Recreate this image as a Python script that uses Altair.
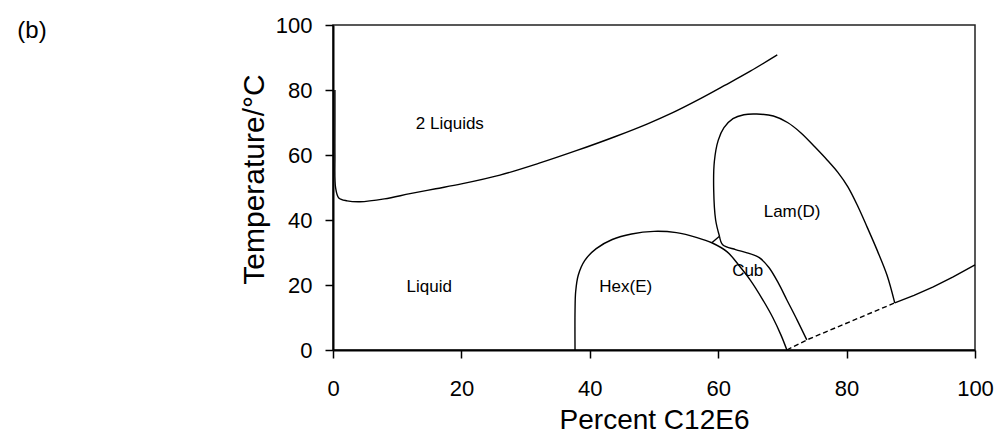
import altair as alt
import pandas as pd

# Phase boundaries of the C12E6 / water system (x: wt% C12E6, y: temperature in °C)
two_liquids_x = [0.3, 0.3, 0.3, 0.4, 0.9, 2.2, 4.2, 8.0, 12.0, 16.0, 20.0, 26.0, 32.0, 38.0, 44.0, 49.0, 53.0, 57.0, 61.0, 65.0, 69.2]
two_liquids_y = [80.0, 70.0, 60.0, 50.0, 46.8, 45.9, 45.6, 46.5, 48.1, 49.6, 51.1, 53.8, 57.4, 61.4, 65.7, 69.6, 73.1, 77.1, 81.4, 85.8, 90.8]

hex_x = [37.7, 37.7, 37.8, 38.2, 39.2, 41.0, 43.5, 46.5, 50.0, 53.5, 56.7, 59.0, 61.4, 63.4, 65.0, 66.9, 68.5, 69.8, 70.7]
hex_y = [0.0, 12.0, 18.0, 23.0, 27.5, 31.2, 34.0, 35.7, 36.5, 36.1, 34.6, 33.0, 30.2, 25.6, 21.5, 15.6, 10.0, 4.5, 0.0]

link_x = [59.0, 60.2]
link_y = [33.0, 35.0]

cub_x = [60.2, 60.7, 62.7, 64.5, 66.4, 67.9, 69.4, 70.7, 72.3, 73.8]
cub_y = [35.0, 32.4, 30.9, 29.9, 28.4, 25.4, 20.5, 15.4, 9.2, 3.1]

lam_x = [60.2, 59.6, 59.3, 59.4, 60.0, 60.9, 62.3, 64.0, 66.0, 68.6, 70.8, 72.9, 75.0, 77.0, 78.7, 80.2, 81.8, 83.2, 84.8, 86.3, 87.5]
lam_y = [35.0, 40.0, 49.2, 58.0, 64.5, 68.4, 71.2, 72.4, 72.6, 72.0, 70.0, 66.8, 62.6, 58.4, 54.5, 50.2, 44.0, 37.8, 30.5, 23.0, 14.5]

dashed_x = [70.7, 73.8, 87.5]
dashed_y = [0.0, 3.1, 14.5]

upper_x = [87.5, 90.5, 93.5, 96.6, 100.0]
upper_y = [14.5, 16.8, 19.4, 22.5, 26.2]

region_names = ["2 Liquids", "Liquid", "Hex(E)", "Cub", "Lam(D)"]
region_x = [18.2, 15.0, 45.6, 64.6, 71.5]
region_y = [69.5, 19.4, 19.4, 24.3, 42.5]

x_ticks = [0, 20, 40, 60, 80, 100]
y_ticks = [0, 20, 40, 60, 80, 100]


def curve(name, xs, ys):
    return pd.DataFrame({"curve": name, "x": xs, "y": ys, "idx": range(len(xs))})


smooth = pd.concat([
    curve("two_liquids", two_liquids_x, two_liquids_y),
    curve("hex", hex_x, hex_y),
    curve("cub", cub_x, cub_y),
    curve("lam", lam_x, lam_y),
])
straight = pd.concat([
    curve("link", link_x, link_y),
    curve("upper", upper_x, upper_y),
])
dashed = curve("dashed", dashed_x, dashed_y)
labels = pd.DataFrame({"name": region_names, "x": region_x, "y": region_y})

x_scale = alt.Scale(domain=[0, 100], nice=False, zero=False)
y_scale = alt.Scale(domain=[0, 100], nice=False, zero=False)

x_enc = alt.X(
    "x:Q", scale=x_scale,
    axis=alt.Axis(
        title="Percent C12E6", values=x_ticks, grid=False, format="d",
        domainColor="black", domainWidth=2, tickColor="black", tickWidth=1.5,
        tickSize=8, labelPadding=20, labelFontSize=22, labelColor="black",
        labelFont="Liberation Sans", titleFont="Liberation Sans", titleFontSize=28,
        titleFontWeight="normal", titleColor="black", titleBaseline="alphabetic",
        titleX=321, titleY=78, labelFlush=False,
    ),
)
y_enc = alt.Y(
    "y:Q", scale=y_scale,
    axis=alt.Axis(
        title="Temperature/°C", values=y_ticks, grid=False, format="d",
        domainColor="black", domainWidth=2, tickColor="black", tickWidth=1.5,
        tickSize=8, labelPadding=13, labelFontSize=22, labelColor="black",
        labelFont="Liberation Sans", titleFont="Liberation Sans", titleFontSize=30,
        titleFontWeight="normal", titleColor="black", titleBaseline="alphabetic",
        titleX=-70, titleY=154, titleAlign="center", labelFlush=False,
    ),
)

smooth_lines = alt.Chart(smooth).mark_line(
    color="black", strokeWidth=1.4, interpolate="catmull-rom"
).encode(x=x_enc, y=y_enc, detail="curve:N", order="idx:Q")

straight_lines = alt.Chart(straight).mark_line(
    color="black", strokeWidth=1.4
).encode(x="x:Q", y="y:Q", detail="curve:N", order="idx:Q")

dashed_line = alt.Chart(dashed).mark_line(
    color="black", strokeWidth=1.4, strokeDash=[5, 3]
).encode(x="x:Q", y="y:Q", order="idx:Q")

region_text = alt.Chart(labels).mark_text(
    font="Liberation Sans", fontSize=17, color="black", baseline="middle", align="center"
).encode(x="x:Q", y="y:Q", text="name:N")

panel_tag = alt.Chart(pd.DataFrame({"tag": ["(b)"]})).mark_text(
    font="Liberation Sans", fontSize=24, color="black", baseline="middle", align="center"
).encode(x=alt.value(-301), y=alt.value(6), text="tag:N")

chart = alt.layer(
    smooth_lines, straight_lines, dashed_line, region_text, panel_tag
).properties(
    width=642,
    height=325,
    padding={"left": 333, "top": 25, "right": 27, "bottom": 96},
    autosize=alt.AutoSizeParams(type="none"),
    background="white",
).configure_view(
    stroke="#222", strokeWidth=1.5
)

chart.save("out.html", embed_options={"renderer": "svg", "actions": False})
